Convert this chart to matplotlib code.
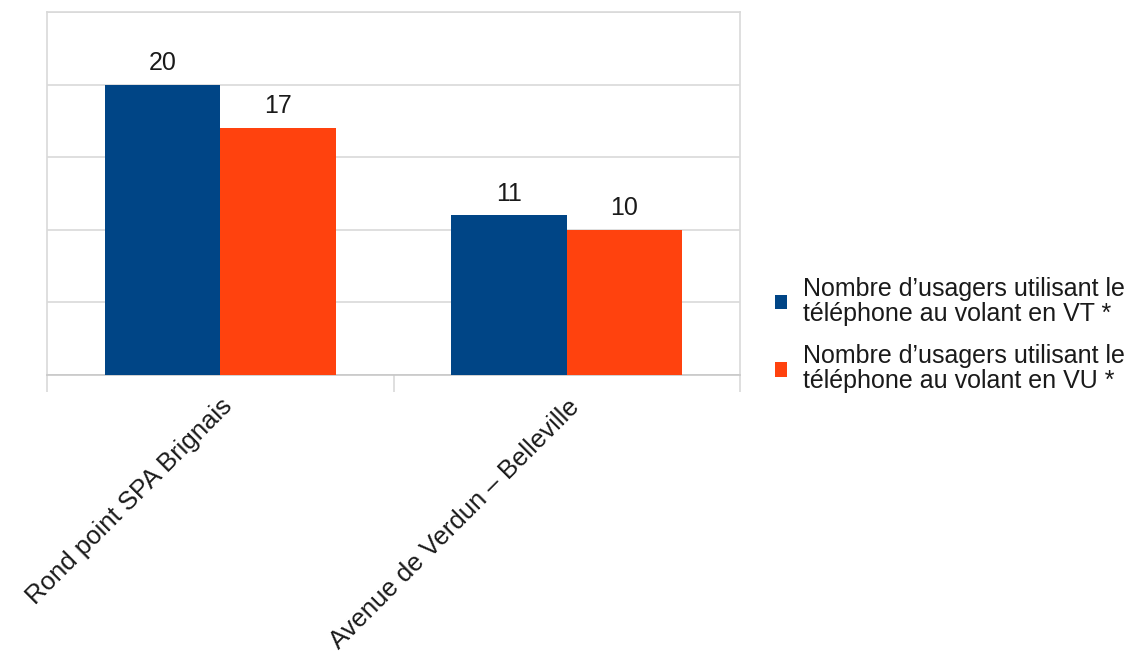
import numpy as np
import matplotlib.pyplot as plt

plt.rcParams['font.family'] = ['Liberation Sans', 'DejaVu Sans']

sites = ["Rond point SPA Brignais", "Avenue de Verdun – Belleville"]
vt = [20, 11]
vu = [17, 10]
series_names = ["Nombre d’usagers utilisant le\ntéléphone au volant en VT *",
                "Nombre d’usagers utilisant le\ntéléphone au volant en VU *"]

blue = "#004586"
orange = "#ff420e"
grid = "#d9d9d9"
txt = "#1a1a1a"

fig = plt.figure(figsize=(11.38, 6.57), dpi=100)
ax = fig.add_axes([0.0413, 0.4292, 0.6090, 0.5525])

x = np.arange(len(sites))
w = 1 / 3
b1 = ax.bar(x - w / 2, vt, w, color=blue, label=series_names[0], zorder=3)
b2 = ax.bar(x + w / 2, vu, w, color=orange, label=series_names[1], zorder=3)
ax.bar_label(b1, padding=7, fontsize=18, color=txt)
ax.bar_label(b2, padding=7, fontsize=18, color=txt)

ax.set_xlim(-0.5, 1.5)
ax.set_ylim(0, 25)
ax.set_yticks([0, 5, 10, 15, 20, 25])
ax.set_yticklabels([])
ax.tick_params(axis='y', length=0)
ax.yaxis.grid(True, color=grid, linewidth=1.2, zorder=0)
for s in ax.spines.values():
    s.set_color(grid)
    s.set_linewidth(1.2)
ax.spines['bottom'].set_color("#c8c8c8")

# category boundary ticks
ax.set_xticks([-0.5, 0.5, 1.5])
ax.set_xticklabels([])
ax.tick_params(axis='x', length=12, color=grid, width=1.2)
ax.set_xticks(x, minor=True)
ax.set_xticklabels(sites, minor=True, rotation=45, ha='right', va='top',
                   rotation_mode='anchor', fontsize=18.5, color=txt)
ax.tick_params(axis='x', which='minor', length=0, pad=14)

leg = fig.legend(handles=[b1, b2], loc='center left', bbox_to_anchor=(0.661, 0.49),
                 frameon=False, fontsize=18, handlelength=0.5, handleheight=0.5,
                 handletextpad=0.65, labelspacing=0.75, labelcolor=txt)
for t in leg.get_texts():
    t.set_linespacing(1.05)

fig.savefig("out.png", dpi=100)
